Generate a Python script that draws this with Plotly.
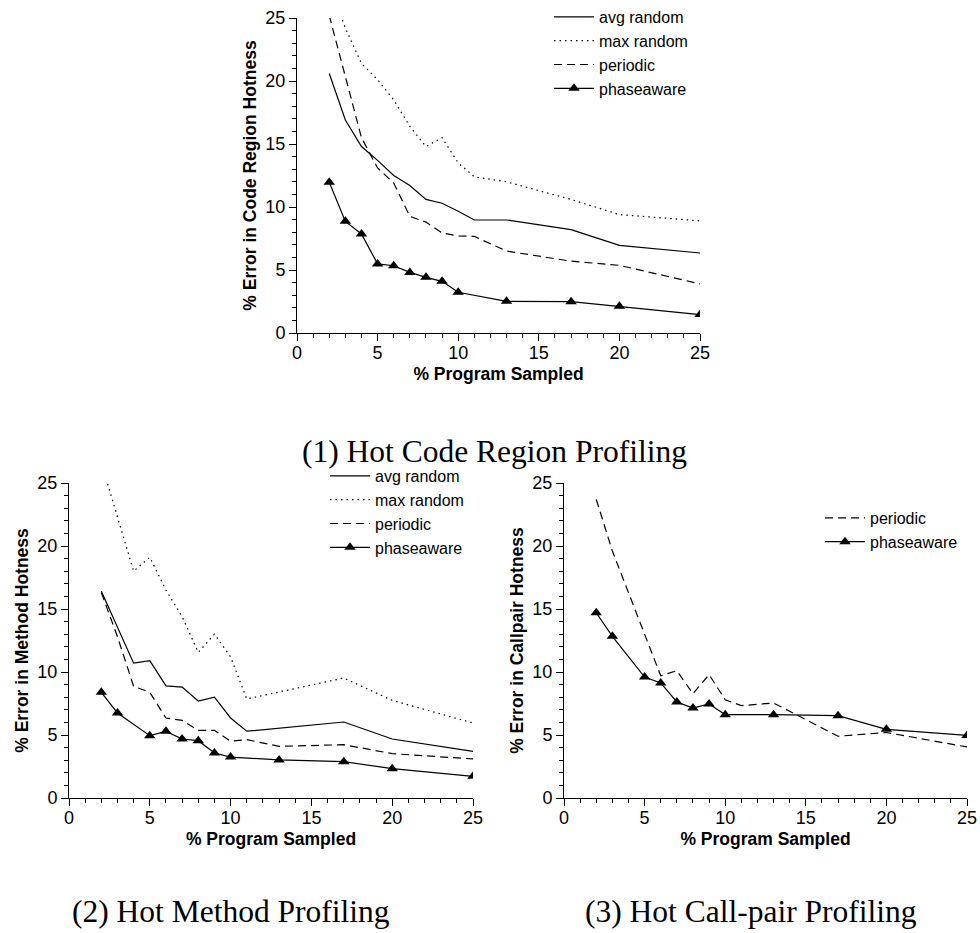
import plotly.graph_objects as go

# ---------------- data ----------------
x_all = [2, 3, 4, 5, 6, 7, 8, 9, 10, 11, 13, 17, 20, 25]

# (1) Hot Code Region Profiling
code_avg = [20.6, 16.9, 14.8, 13.7, 12.5, 11.7, 10.6, 10.3, 9.66, 8.97, 8.97, 8.2, 6.96, 6.35]
code_max = [27.7, 24.2, 21.4, 20.1, 18.5, 16.4, 14.8, 15.5, 13.5, 12.4, 12.0, 10.6, 9.4, 8.9]
code_per = [25.2, 20.3, 15.5, 13.1, 11.9, 9.26, 8.8, 7.94, 7.7, 7.67, 6.5, 5.7, 5.37, 3.9]
x_code_pa = [2, 3, 4, 5, 6, 7, 8, 9, 10, 13, 17, 20, 25]
code_pa = [11.96, 8.86, 7.86, 5.48, 5.34, 4.81, 4.42, 4.1, 3.23, 2.51, 2.49, 2.12, 1.46]

# (2) Hot Method Profiling
meth_avg = [16.4, 13.6, 10.7, 10.9, 8.9, 8.8, 7.7, 8.0, 6.35, 5.3, 5.55, 6.03, 4.68, 3.7]
meth_max = [26.6, 22.3, 18.0, 19.1, 16.5, 14.4, 11.56, 13.0, 11.2, 7.86, 8.4, 9.52, 7.75, 5.95]
meth_per = [16.3, 12.8, 8.86, 8.39, 6.35, 6.16, 5.37, 5.37, 4.5, 4.63, 4.1, 4.23, 3.52, 3.1]
x_meth_pa = [2, 3, 5, 6, 7, 8, 9, 10, 13, 17, 20, 25]
meth_pa = [8.39, 6.75, 4.95, 5.29, 4.68, 4.55, 3.57, 3.25, 3.02, 2.88, 2.33, 1.72]

# (3) Hot Call-pair Profiling
call_per = [23.7, 19.6, 16.3, 13.0, 9.7, 10.1, 8.28, 9.79, 7.8, 7.33, 7.54, 4.9, 5.2, 4.05]
x_call_pa = [2, 3, 5, 6, 7, 8, 9, 10, 13, 17, 20, 25]
call_pa = [14.7, 12.83, 9.6, 9.13, 7.62, 7.14, 7.46, 6.61, 6.61, 6.53, 5.45, 4.97]

ticks = [0, 5, 10, 15, 20, 25]
captions = ["(1) Hot Code Region Profiling", "(2) Hot Method Profiling", "(3) Hot Call-pair Profiling"]
ytitles = ["% Error in Code Region Hotness", "% Error in Method Hotness", "% Error in Callpair Hotness"]
xtitle = "% Program Sampled"

# ---------------- styles ----------------
SANS = "Liberation Sans, Arial, Helvetica, sans-serif"
SERIF = "Liberation Serif, Times New Roman, serif"
LW = 1.2
styles = {
    "avg random": dict(line=dict(color="black", width=LW), mode="lines"),
    "max random": dict(line=dict(color="black", width=LW, dash="1.5px,4px"), mode="lines"),
    "periodic": dict(line=dict(color="black", width=LW, dash="8px,5px"), mode="lines"),
    "phaseaware": dict(line=dict(color="black", width=LW), mode="lines+markers",
                       marker=dict(symbol="triangle-up", size=10, color="black")),
}

fig = go.Figure()

def add(name, x, y, ax, leg):
    s = styles[name]
    fig.add_trace(go.Scatter(x=x, y=y, name=name, xaxis="x" + ax, yaxis="y" + ax,
                             legend=leg, **s))

add("avg random", x_all, code_avg, "", "legend")
add("max random", x_all, code_max, "", "legend")
add("periodic", x_all, code_per, "", "legend")
add("phaseaware", x_code_pa, code_pa, "", "legend")

add("avg random", x_all, meth_avg, "2", "legend2")
add("max random", x_all, meth_max, "2", "legend2")
add("periodic", x_all, meth_per, "2", "legend2")
add("phaseaware", x_meth_pa, meth_pa, "2", "legend2")

add("periodic", x_all, call_per, "3", "legend3")
add("phaseaware", x_call_pa, call_pa, "3", "legend3")

W, H = 980, 933

def px_x(p):
    return p / W

def px_y(p):
    return 1 - p / H

def xaxis(dom, anchor):
    return dict(domain=dom, anchor=anchor, range=[0, 25], tickvals=ticks,
                showline=True, linecolor="black", linewidth=1, showgrid=False, zeroline=False,
                ticks="outside", ticklen=7, tickwidth=1, tickcolor="black",
                minor=dict(dtick=1, ticks="outside", ticklen=4, tickwidth=1, tickcolor="black", showgrid=False),
                tickfont=dict(family=SANS, size=18, color="black"), ticklabeloverflow="allow",
                ticklabelstandoff=-4,
                title=dict(text=xtitle, font=dict(family=SANS, size=17.5, color="black", weight="bold"), standoff=6),
                automargin=False, fixedrange=True)

def yaxis(dom, anchor, title):
    return dict(domain=dom, anchor=anchor, range=[0, 25], tickvals=ticks,
                showline=True, linecolor="black", linewidth=1, showgrid=False, zeroline=False,
                ticks="outside", ticklen=7, tickwidth=1, tickcolor="black",
                minor=dict(dtick=1, ticks="outside", ticklen=4, tickwidth=1, tickcolor="black", showgrid=False),
                tickfont=dict(family=SANS, size=18, color="black"), ticklabeloverflow="allow",
                title=dict(text=title, font=dict(family=SANS, size=17.5, color="black", weight="bold"), standoff=4),
                automargin=False, fixedrange=True)

legfont = dict(family=SANS, size=16, color="black")
leg_common = dict(font=legfont, bgcolor="rgba(0,0,0,0)", borderwidth=0, xanchor="left", yanchor="top",
                  tracegroupgap=0, itemclick=False, itemdoubleclick=False, itemwidth=40)

fig.update_layout(
    width=W, height=H,
    margin=dict(l=0, r=0, t=0, b=0),
    paper_bgcolor="white", plot_bgcolor="white",
    font=dict(family=SANS, size=17, color="black"),
    showlegend=True,
    xaxis=xaxis([px_x(297), px_x(700)], "y"),
    yaxis=yaxis([px_y(333), px_y(18)], "x", ytitles[0]),
    xaxis2=xaxis([px_x(69), px_x(473)], "y2"),
    yaxis2=yaxis([px_y(798), px_y(483)], "x2", ytitles[1]),
    xaxis3=xaxis([px_x(564), px_x(967)], "y3"),
    yaxis3=yaxis([px_y(798), px_y(483)], "x3", ytitles[2]),
    legend=dict(x=px_x(549), y=1.0, **leg_common),
    legend2=dict(x=px_x(325), y=px_y(459), **leg_common),
    legend3=dict(x=px_x(820), y=px_y(501), **leg_common),
    annotations=[
        dict(text=captions[0], x=px_x(495), y=px_y(451), xref="paper", yref="paper",
             showarrow=False, xanchor="center", yanchor="middle",
             font=dict(family=SERIF, size=31.5, color="black")),
        dict(text=captions[1], x=px_x(231), y=px_y(911), xref="paper", yref="paper",
             showarrow=False, xanchor="center", yanchor="middle",
             font=dict(family=SERIF, size=31.5, color="black")),
        dict(text=captions[2], x=px_x(751), y=px_y(911), xref="paper", yref="paper",
             showarrow=False, xanchor="center", yanchor="middle",
             font=dict(family=SERIF, size=31.5, color="black")),
    ],
)

# remove the default 8px page margin so the 980x933 figure fills the window exactly
fig.write_html("out.html", config={"displayModeBar": False},
               post_script="document.body.style.margin='0';document.body.style.overflow='hidden';")
